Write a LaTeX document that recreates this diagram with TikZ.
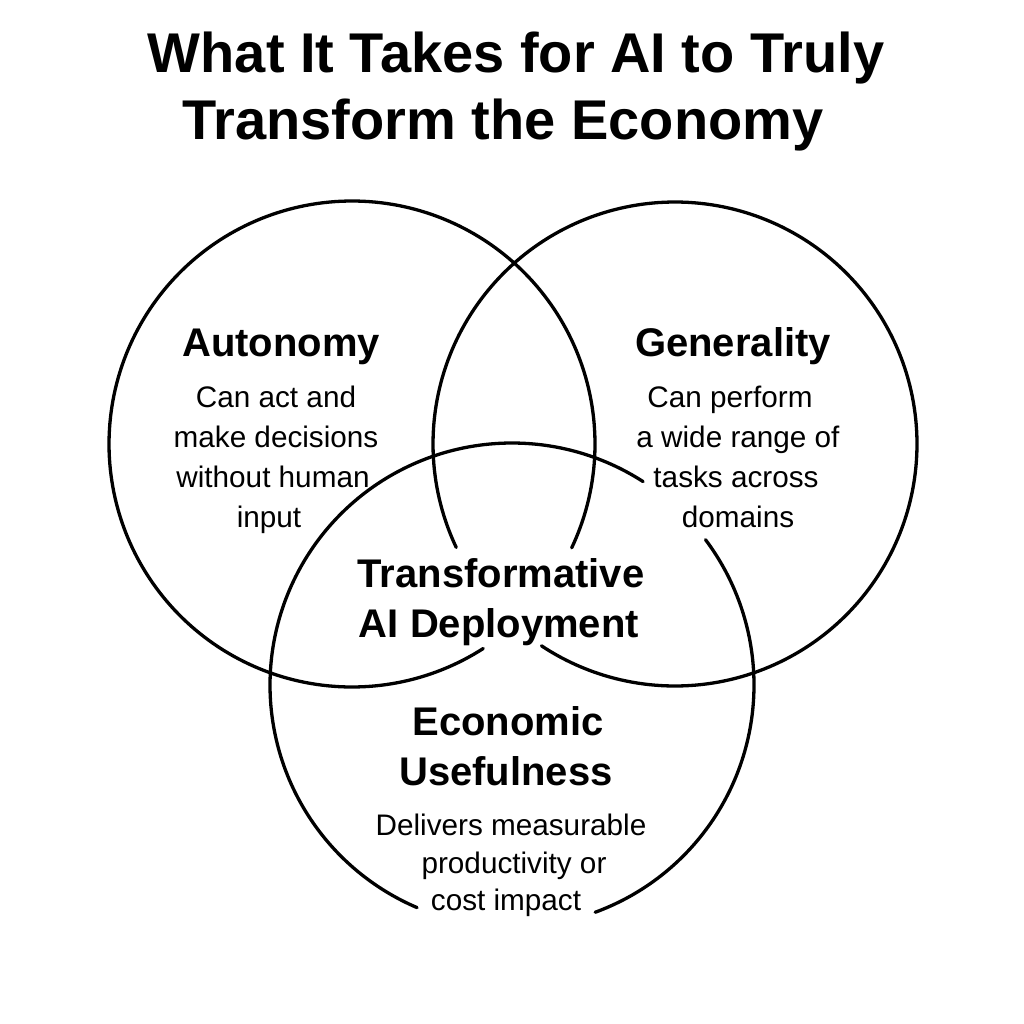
\documentclass[tikz,border=0pt]{standalone}
\usepackage{fontspec}
\setmainfont{Liberation Sans}
\begin{document}
\begin{tikzpicture}[x=1pt,y=-1pt,
  ring/.style={line width=3.3pt, line cap=round},
  ttl/.style={font=\fontsize{56}{66}\selectfont\bfseries, anchor=base, inner sep=0pt},
  hd/.style={font=\fontsize{40}{48}\selectfont\bfseries, anchor=base, inner sep=0pt},
  bd/.style={font=\fontsize{29.7}{36}\selectfont, anchor=base, inner sep=0pt}]
\useasboundingbox (0,0) rectangle (1024,1024);
\fill[white] (0,0) rectangle (1024,1024);
% circle centres
\coordinate (cL) at (352,444);
\coordinate (cR) at (675,444);
\coordinate (cB) at (512,685);
% left circle (Autonomy)
\draw[ring] plot[domain=57.3:385.3, samples=240] ({352+243*cos(\x)},{444+243*sin(\x)});
% right circle (Generality)
\draw[ring] plot[domain=154.7:483.5, samples=240] ({675+242*cos(\x)},{444+242*sin(\x)});
% bottom circle (Economic Usefulness)
\draw[ring] plot[domain=-36.9:69.9, samples=120] ({512+242*cos(\x)},{685+242*sin(\x)});
\draw[ring] plot[domain=113.1:302.8, samples=200] ({512+242*cos(\x)},{685+242*sin(\x)});
% title
\node[ttl] (t1) at (516,73) {What It Takes for AI to Truly};
\node[ttl] (t2) at (503,140) {Transform the Economy};
% left
\node[hd] (hA) at (281,356) {Autonomy};
\node[bd] (a1) at (276,407) {Can act and};
\node[bd] (a2) at (276,447) {make decisions};
\node[bd] (a3) at (273,487) {without human};
\node[bd] (a4) at (269,527) {input};
% right
\node[hd] (hG) at (733,356) {Generality};
\node[bd] (g1) at (730,407) {Can perform};
\node[bd] (g2) at (738,447) {a wide range of};
\node[bd] (g3) at (736,487) {tasks across};
\node[bd] (g4) at (738,527) {domains};
% centre
\node[hd] (c1) at (501,587) {Transformative};
\node[hd] (c2) at (499,637) {AI Deployment};
% bottom
\node[hd] (hE) at (508,735) {Economic};
\node[hd] (hU) at (506,785) {Usefulness};
\node[bd] (e1) at (511,835) {Delivers measurable};
\node[bd] (e2) at (514,873) {productivity or};
\node[bd] (e3) at (506,910) {cost impact};
\end{tikzpicture}
\end{document}
